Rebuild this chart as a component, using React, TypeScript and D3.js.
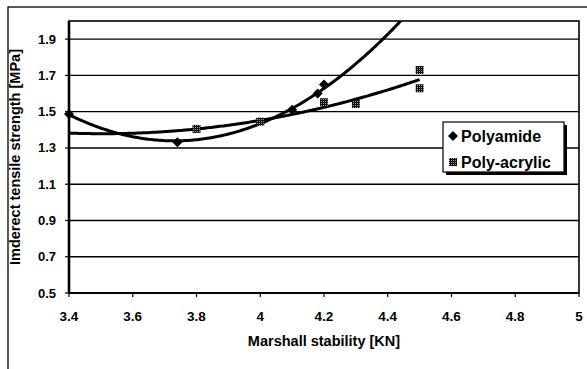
import React from 'react';
import * as d3 from 'd3';

// Polyamide samples (last one sits above the axis range and is not drawn)
const polyamideX = [3.4, 3.74, 4.1, 4.18, 4.2, 4.5];
const polyamideY = [1.487, 1.331, 1.51, 1.6, 1.65, 2.11];

// Poly-acrylic samples
const acrylicX = [3.8, 4.0, 4.2, 4.3, 4.5, 4.5];
const acrylicY = [1.405, 1.445, 1.552, 1.542, 1.73, 1.629];

const xTicks = [3.4, 3.6, 3.8, 4, 4.2, 4.4, 4.6, 4.8, 5];
const yTicks = [0.5, 0.7, 0.9, 1.1, 1.3, 1.5, 1.7, 1.9];
const seriesNames = ['Polyamide', 'Poly-acrylic'];

const W = 587;
const H = 369;
const margin = { top: 21, left: 69 };
const plotW = 510;
const plotH = 272;
const FONT = 'Liberation Sans, Arial, sans-serif';

// least squares quadratic fit, like an Excel order-2 polynomial trendline
function polyFit2(xs: number[], ys: number[]) {
  const n = xs.length;
  let s1 = 0, s2 = 0, s3 = 0, s4 = 0, t0 = 0, t1 = 0, t2 = 0;
  for (let i = 0; i < n; i++) {
    const x = xs[i], y = ys[i];
    s1 += x; s2 += x * x; s3 += x * x * x; s4 += x * x * x * x;
    t0 += y; t1 += x * y; t2 += x * x * y;
  }
  const A = [
    [n, s1, s2, t0],
    [s1, s2, s3, t1],
    [s2, s3, s4, t2],
  ];
  for (let c = 0; c < 3; c++) {
    for (let r = c + 1; r < 3; r++) {
      const f = A[r][c] / A[c][c];
      for (let k = c; k < 4; k++) A[r][k] -= f * A[c][k];
    }
  }
  const coef = [0, 0, 0];
  for (let r = 2; r >= 0; r--) {
    let s = A[r][3];
    for (let k = r + 1; k < 3; k++) s -= A[r][k] * coef[k];
    coef[r] = s / A[r][r];
  }
  return (x: number) => coef[0] + coef[1] * x + coef[2] * x * x;
}

const App: React.FC = () => {
  const x = d3.scaleLinear().domain([3.4, 5]).range([0, plotW]);
  const y = d3.scaleLinear().domain([0.5, 2.0]).range([plotH, 0]);

  const fitA = polyFit2(polyamideX, polyamideY);
  const fitB = polyFit2(acrylicX, acrylicY);
  const samples = d3.range(0, 201).map(i => 3.4 + (1.1 * i) / 200);

  const line = d3
    .line<[number, number]>()
    .x(d => x(d[0]))
    .y(d => y(d[1]));

  const pathA = line(samples.map(s => [s, fitA(s)] as [number, number])) || '';
  const pathB = line(samples.map(s => [s, fitB(s)] as [number, number])) || '';

  const diamond = d3.symbol().type(d3.symbolDiamond2).size(64)() || '';
  const inRange = (v: number) => v >= 0.5 && v <= 2.0;

  return (
    <div style={{ position: 'fixed', left: 0, top: 0 }}>
      <svg width={W} height={H} style={{ display: 'block', background: '#fff' }}>
        <defs>
          <pattern id="speckle" width="2" height="2" patternUnits="userSpaceOnUse">
            <rect width="2" height="2" fill="#111" />
            <rect width="1" height="1" fill="#999" />
          </pattern>
          <clipPath id="plotClip">
            <rect x={0} y={0} width={plotW} height={plotH} />
          </clipPath>
        </defs>

        {/* outer chart frame (cut off by the image) */}
        <rect x={8} y={7} width={620} height={400} fill="none" stroke="#000" strokeWidth={1.3} />

        <g transform={`translate(${margin.left},${margin.top})`}>
          {/* grid lines */}
          {yTicks.map(t => (
            <line key={t} x1={0} x2={plotW} y1={y(t)} y2={y(t)} stroke="#000" strokeWidth={1.4} />
          ))}
          {/* plot border */}
          <rect x={0} y={0} width={plotW} height={plotH} fill="none" stroke="#000" strokeWidth={1.6} />
          <line x1={0} x2={0} y1={0} y2={plotH} stroke="#000" strokeWidth={2.6} />
          <line x1={0} x2={plotW} y1={plotH} y2={plotH} stroke="#000" strokeWidth={2} />

          {/* y ticks */}
          {yTicks.map(t => (
            <g key={t}>
              <line x1={-4} x2={0} y1={y(t)} y2={y(t)} stroke="#000" strokeWidth={1.2} />
              <text
                x={-13}
                y={y(t) + 4.5}
                textAnchor="end"
                fontFamily={FONT}
                fontWeight="bold"
                fontSize={13}
              >
                {t.toFixed(1)}
              </text>
            </g>
          ))}

          {/* x ticks */}
          {xTicks.map(t => (
            <g key={t}>
              <line x1={x(t)} x2={x(t)} y1={plotH} y2={plotH + 4} stroke="#000" strokeWidth={1.2} />
              <text
                x={x(t)}
                y={plotH + 28}
                textAnchor="middle"
                fontFamily={FONT}
                fontWeight="bold"
                fontSize={13.5}
              >
                {String(t)}
              </text>
            </g>
          ))}

          {/* trendlines */}
          <g clipPath="url(#plotClip)">
            <path d={pathA} fill="none" stroke="#000" strokeWidth={3} />
            <path d={pathB} fill="none" stroke="#000" strokeWidth={3} />
          </g>

          {/* markers */}
          {polyamideX.map((v, i) =>
            inRange(polyamideY[i]) ? (
              <path
                key={`a${i}`}
                d={diamond}
                transform={`translate(${x(v)},${y(polyamideY[i])})`}
                fill="#000"
              />
            ) : null
          )}
          {acrylicX.map((v, i) =>
            inRange(acrylicY[i]) ? (
              <rect
                key={`b${i}`}
                x={x(v) - 4}
                y={y(acrylicY[i]) - 4}
                width={8}
                height={8}
                fill="url(#speckle)"
              />
            ) : null
          )}

          {/* axis titles */}
          <text
            x={plotW / 2}
            y={plotH + 53}
            textAnchor="middle"
            fontFamily={FONT}
            fontWeight="bold"
            fontSize={14.5}
          >
            Marshall stability [KN]
          </text>
          <text
            transform={`translate(${-49},${plotH / 2}) rotate(-90)`}
            textAnchor="middle"
            fontFamily={FONT}
            fontWeight="bold"
            fontSize={14.5}
          >
            Imderect tensile strength [MPa]
          </text>
        </g>

        {/* legend */}
        <g transform="translate(443,122)">
          <rect x={3} y={3} width={121} height={50} fill="#000" />
          <rect x={0} y={0} width={121} height={50} fill="#fff" stroke="#000" strokeWidth={1.2} />
          <path d={diamond} transform="translate(10,14)" fill="#000" />
          <text x={18} y={19.5} fontFamily={FONT} fontWeight="bold" fontSize={16}>
            {seriesNames[0]}
          </text>
          <rect x={6} y={36} width={8} height={8} fill="url(#speckle)" />
          <text x={18} y={45.5} fontFamily={FONT} fontWeight="bold" fontSize={16}>
            {seriesNames[1]}
          </text>
        </g>
      </svg>
    </div>
  );
};

export default App;
